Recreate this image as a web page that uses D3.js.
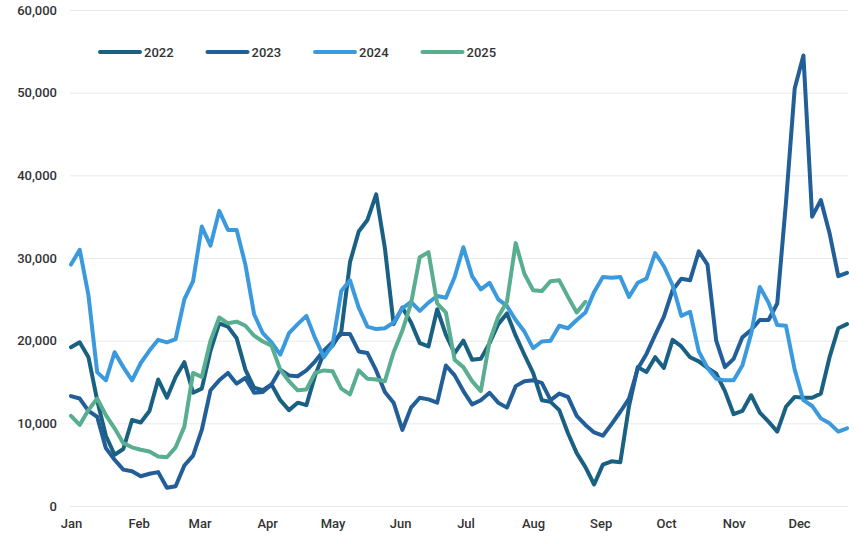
<!DOCTYPE html>
<html>
<head>
<meta charset="utf-8">
<script src="https://cdn.jsdelivr.net/npm/d3@7"></script>
<style>
  body { margin: 0; background: #fff; }
  text { font-family: Roboto, "Noto Sans", sans-serif; }
</style>
</head>
<body>
<div id="chart"></div>
<script>
// sample every 4 days from Jan 1
const days = d3.range(0, 357, 4);

const months = ['Jan', 'Feb', 'Mar', 'Apr', 'May', 'Jun', 'Jul', 'Aug', 'Sep', 'Oct', 'Nov', 'Dec'];
const monthStart = [0, 31, 59, 90, 120, 151, 181, 212, 243, 273, 304, 334];
const yTicks = [0, 10000, 20000, 30000, 40000, 50000, 60000];

const seriesNames = ['2022', '2023', '2024', '2025'];
const seriesColors = ['#1a6083', '#225e98', '#3b9ade', '#5aae90'];

const v2022 = [19200, 19800, 18000, 12800, 8500, 6200, 6900, 10400, 10100, 11500,
  15300, 13100, 15600, 17400, 13700, 14200, 18800, 22100, 21700, 20300,
  16500, 14300, 14000, 14700, 12800, 11600, 12500, 12200, 15800, 18500,
  19400, 21100, 29500, 33200, 34600, 37700, 31200, 22000, 24000, 22200,
  19700, 19300, 23800, 20700, 18500, 20000, 17700, 17800, 19700, 22000,
  23300, 20600, 18300, 16100, 12800, 12600, 11600, 8800, 6400, 4700,
  2600, 5000, 5400, 5300, 12100, 16800, 16200, 18000, 16700, 20100,
  19300, 18000, 17500, 16700, 16000, 13900, 11100, 11500, 13400, 11300,
  10200, 9000, 12000, 13200, 13100, 13100, 13600, 18000, 21500, 22000];

const v2023 = [13300, 13000, 11500, 10800, 7000, 5600, 4400, 4200, 3600, 3900,
  4100, 2200, 2400, 4900, 6100, 9200, 14000, 15200, 16100, 14800,
  15500, 13700, 13800, 14700, 16500, 15800, 15700, 16400, 17500, 18800,
  19800, 20800, 20800, 18700, 18500, 16400, 13800, 12500, 9200, 11900,
  13100, 12900, 12500, 17000, 15800, 13900, 12300, 12800, 13700, 12500,
  11900, 14500, 15100, 15200, 14900, 12800, 13600, 13200, 10900, 9800,
  8900, 8500, 9900, 11400, 13000, 16600, 18400, 20700, 22900, 26100,
  27500, 27300, 30800, 29200, 20000, 16800, 17800, 20400, 21300, 22500,
  22500, 24500, 36700, 50500, 54500, 35000, 37000, 33000, 27800, 28200];

const v2024 = [29200, 31000, 25500, 16200, 15200, 18600, 16800, 15200, 17300, 18800,
  20100, 19800, 20200, 25000, 27200, 33800, 31500, 35700, 33400, 33400,
  29200, 23200, 20900, 19800, 18300, 20900, 22000, 23000, 20300, 18000,
  19500, 26000, 27300, 24000, 21700, 21400, 21500, 22200, 23900, 24700,
  23600, 24600, 25400, 25200, 27700, 31300, 27800, 26200, 27000, 25000,
  24200, 22500, 21100, 19100, 19900, 20000, 21800, 21500, 22500, 23400,
  25900, 27700, 27600, 27700, 25300, 27000, 27500, 30600, 29000, 26700,
  23000, 23500, 18700, 16700, 15400, 15200, 15200, 17000, 20800, 26500,
  24600, 21900, 21800, 16500, 12800, 12100, 10600, 10000, 9000, 9400];

const v2025 = [10900, 9800, 11600, 13000, 11000, 9400, 7600, 7100, 6800, 6600,
  6000, 5900, 7100, 9600, 16100, 15600, 20000, 22800, 22100, 22300,
  21800, 20600, 19900, 19400, 16500, 15100, 14000, 14100, 16100, 16400,
  16300, 14200, 13500, 16400, 15400, 15300, 15100, 18600, 21200, 24500,
  30100, 30700, 24500, 23400, 17700, 16800, 15100, 13900, 19900, 22900,
  24700, 31800, 28100, 26100, 26000, 27200, 27300, 25300, 23400, 24700];

const allSeries = [v2022, v2023, v2024, v2025];

const width = 868;
const height = 544;
const margin = { top: 10, right: 21, bottom: 38, left: 71 };

const svg = d3.select('#chart')
  .append('svg')
  .attr('width', width)
  .attr('height', height);

const x = d3.scaleLinear().domain([0, 356]).range([margin.left, width - margin.right]);
const y = d3.scaleLinear().domain([0, 60000]).range([height - margin.bottom, margin.top]);

// gridlines + y labels
const yAxis = svg.append('g')
  .attr('transform', `translate(${margin.left - 1}, 0)`)
  .call(d3.axisLeft(y)
    .tickValues(yTicks)
    .tickFormat(d3.format(','))
    .tickSize(-(width - margin.left - margin.right + 2))
    .tickPadding(13));
yAxis.select('.domain').remove();
yAxis.selectAll('line').attr('stroke', '#e9e9e9').attr('stroke-width', 1);
yAxis.selectAll('text')
  .attr('fill', '#333')
  .style('font-size', '13px')
  .style('font-weight', 500);

// x labels
const xAxis = svg.append('g')
  .attr('transform', `translate(0, ${height - margin.bottom})`)
  .call(d3.axisBottom(x)
    .tickValues(monthStart)
    .tickFormat((d, i) => months[i])
    .tickSize(0)
    .tickPadding(13));
xAxis.select('.domain').remove();
xAxis.selectAll('text')
  .attr('fill', '#333')
  .style('font-size', '13px')
  .style('font-weight', 500);

const line = d3.line()
  .x((d, i) => x(days[i]))
  .y((d) => y(d));

allSeries.forEach((vals, k) => {
  svg.append('path')
    .datum(vals)
    .attr('fill', 'none')
    .attr('stroke', seriesColors[k])
    .attr('stroke-width', 4)
    .attr('stroke-linejoin', 'round')
    .attr('stroke-linecap', 'round')
    .attr('d', line);
});

// legend
const legend = svg.append('g').attr('transform', 'translate(100, 52)');
seriesNames.forEach((name, k) => {
  const g = legend.append('g').attr('transform', `translate(${k * 107.5}, 0)`);
  g.append('line')
    .attr('x1', 0).attr('x2', 40)
    .attr('stroke', seriesColors[k])
    .attr('stroke-width', 4)
    .attr('stroke-linecap', 'round');
  g.append('text')
    .attr('x', 44)
    .attr('y', 5)
    .attr('fill', '#333')
    .style('font-size', '13px')
    .style('font-weight', 500)
    .text(name);
});
</script>
</body>
</html>
